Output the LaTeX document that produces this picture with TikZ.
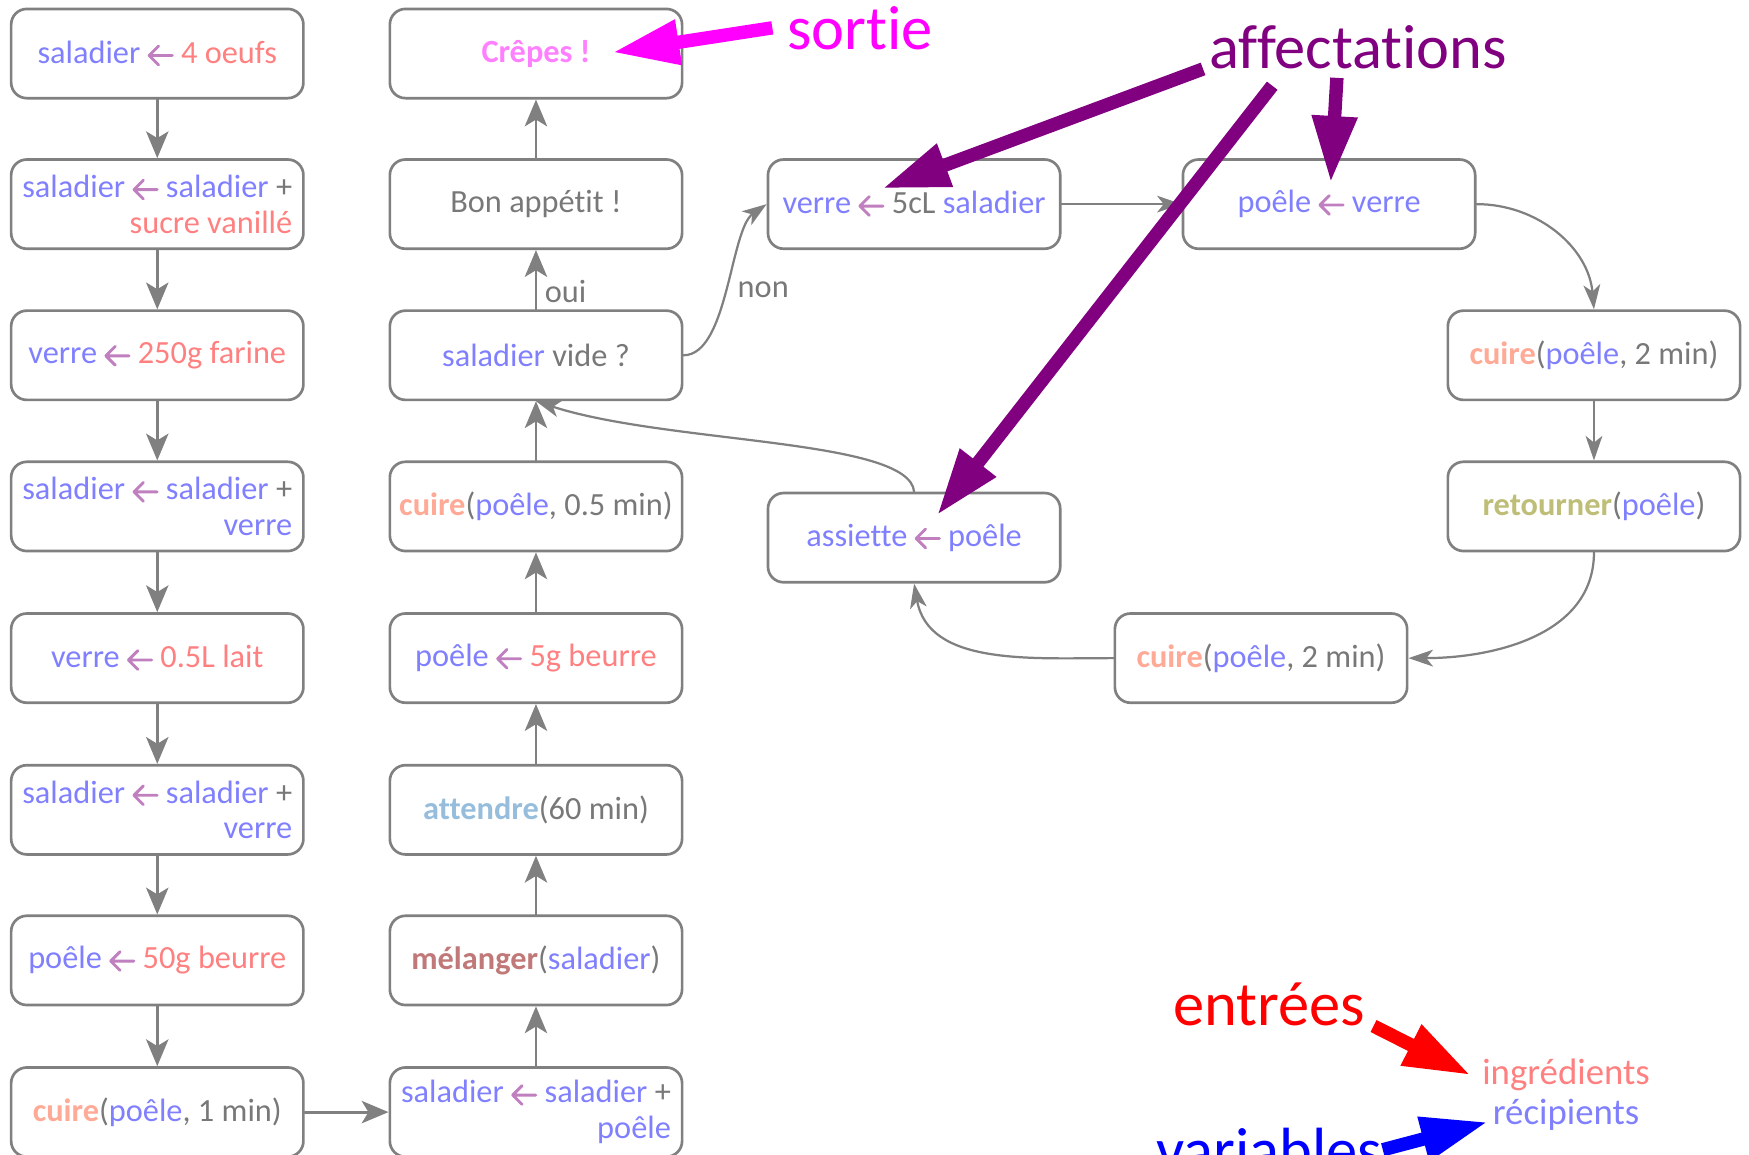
\documentclass[tikz,border=0pt]{standalone}
\usepackage{fontspec}
\setmainfont{Carlito}[Ligatures=NoCommon]
\usetikzlibrary{arrows.meta}
\definecolor{texte_gris}{RGB}{120,120,120}
\definecolor{recipient_bleu}{RGB}{128,128,255}
\definecolor{ingredient_rouge}{RGB}{255,128,128}
\definecolor{fleche_mauve}{RGB}{192,128,192}
\definecolor{cuire_saumon}{RGB}{255,170,150}
\definecolor{attendre_bleu}{RGB}{150,190,220}
\definecolor{melanger_brun}{RGB}{192,120,120}
\definecolor{retourner_olive}{RGB}{190,190,120}
\definecolor{sortie_rose}{RGB}{255,128,255}
\definecolor{sortie_magenta}{RGB}{255,0,255}
\definecolor{affectation_violet}{RGB}{128,0,128}
\definecolor{entree_rouge}{RGB}{255,0,0}
\definecolor{variable_bleu}{RGB}{0,0,255}
\newcommand\rec[1]{\textcolor{recipient_bleu}{#1}}
\newcommand\ingr[1]{\textcolor{ingredient_rouge}{#1}}
\newcommand\recoit{\tikz[baseline=0pt,sharp corners,line cap=round,line join=round]\draw[fleche_mauve,line width=1.3pt] (11pt,3.5pt) -- (0.6pt,3.5pt) (4.8pt,7.7pt) -- (0.6pt,3.5pt) -- (4.8pt,-0.7pt);}
\newcommand\fonction[2]{\textcolor{#1}{\bfseries #2}}
\tikzset{
	etape/.style={draw=gray,line width=1.2pt,rounded corners=7pt,minimum width=131pt,minimum height=40pt,inner sep=3pt,align=right,text=texte_gris,font=\fontsize{14.5}{16}\selectfont},
	lien/.style={draw=gray,line width=1.3pt,-{Stealth[length=12pt,width=10pt,inset=3pt]}},
	boucle/.style={draw=gray,line width=1pt,-{Stealth[length=11pt,width=7.5pt,inset=3pt]}},
	grosse/.style={line width=6pt,line cap=butt,-{Triangle[length=30pt,width=19pt]}},
	legende/.style={font=\fontsize{28}{30}\selectfont,anchor=base,inner sep=0pt},
	petit/.style={font=\fontsize{14.5}{16}\selectfont,text=texte_gris},
}

\begin{document}
\begin{tikzpicture}[x=0.5pt,y=0.5pt,line join=round,line cap=round]
	\useasboundingbox (0,0) rectangle (1568,-1035);
	\begin{scope}
		\node[etape] (g1) at (141,-48)  {\rec{saladier} \recoit{} \ingr{4 oeufs}};
		\node[etape] (g2) at (141,-183) {\rec{saladier} \recoit{} \rec{saladier} +\\ \ingr{sucre vanillé}};
		\node[etape] (g3) at (141,-318.5) {\rec{verre} \recoit{} \ingr{250g farine}};
		\node[etape] (g4) at (141,-454) {\rec{saladier} \recoit{} \rec{saladier} +\\ \rec{verre}};
		\node[etape] (g5) at (141,-590) {\rec{verre} \recoit{} \ingr{0.5L lait}};
		\node[etape] (g6) at (141,-726) {\rec{saladier} \recoit{} \rec{saladier} +\\ \rec{verre}};
		\node[etape] (g7) at (141,-861) {\rec{poêle} \recoit{} \ingr{50g beurre}};
		\node[etape] (g8) at (141,-997) {\fonction{cuire_saumon}{cuire}(\rec{poêle}, 1 min)};

		\node[etape] (m1) at (480.5,-48)  {\fonction{sortie_rose}{Crêpes !}};
		\node[etape] (m2) at (480.5,-183) {Bon appétit !};
		\node[etape] (m3) at (480.5,-318.5) {\rec{saladier} vide ?};
		\node[etape] (m4) at (480.5,-454) {\fonction{cuire_saumon}{cuire}(\rec{poêle}, 0.5 min)};
		\node[etape] (m5) at (480.5,-590) {\rec{poêle} \recoit{} \ingr{5g beurre}};
		\node[etape] (m6) at (480.5,-726) {\fonction{attendre_bleu}{attendre}(60 min)};
		\node[etape] (m7) at (480.5,-861) {\fonction{melanger_brun}{mélanger}(\rec{saladier})};
		\node[etape] (m8) at (480.5,-997) {\rec{saladier} \recoit{} \rec{saladier} +\\ \rec{poêle}};

		\node[etape] (verre)    at (819.5,-183)  {\rec{verre} \recoit{} 5cL \rec{saladier}};
		\node[etape] (poele)    at (1191.5,-183) {\rec{poêle} \recoit{} \rec{verre}};
		\node[etape] (cuirea)   at (1429,-318.5) {\fonction{cuire_saumon}{cuire}(\rec{poêle}, 2 min)};
		\node[etape] (retourne) at (1429,-454)   {\fonction{retourner_olive}{retourner}(\rec{poêle})};
		\node[etape] (cuireb)   at (1130.5,-590) {\fonction{cuire_saumon}{cuire}(\rec{poêle}, 2 min)};
		\node[etape] (assiette) at (819.5,-482)  {\rec{assiette} \recoit{} \rec{poêle}};
	\end{scope}
	\foreach\i in {1,...,7}
	{
		\pgfmathtruncatemacro\j{\i+1}
		\draw[lien] (g\i) -- (g\j);
	}
	\draw[lien] (g8) -- (m8);
	\foreach\i in {3,...,7}
	{
		\pgfmathtruncatemacro\j{\i+1}
		\draw[lien] (m\j) -- (m\i);
	}
	\draw[lien] (m3) -- node[pos=0.3,right,petit] {oui} (m2);
	\draw[lien] (m2) -- (m1);
	\draw[boucle] (m3.east) to[out=0,in=215,out distance=20pt,in distance=20pt] node[pos=0.5,anchor=west,xshift=0.5pt,petit] {non} (verre.west);
	\draw[boucle] (verre) -- (poele);
	\draw[boucle] (poele.east) to[out=0,in=95] (cuirea.north);
	\draw[boucle] (cuirea) -- (retourne);
	\draw[boucle] (retourne.south) to[out=-90,in=0] (cuireb.east);
	\draw[boucle] (cuireb.west) to[out=180,in=-80] (assiette.south);
	\draw[boucle] (assiette.north) to[out=95,in=-18,out distance=24pt,in distance=62pt] (m3.south);

	\node[legende,text=sortie_magenta] (sortie) at (771,-44) {sortie};
	\node[legende,text=affectation_violet] (affect) at (1217.5,-61) {affectations};
	\node[legende,text=entree_rouge] (entrees) at (1138,-919) {entrées};
	\node[legende,text=variable_bleu] (variables) at (1138,-1050) {variables};
	\node[anchor=base,inner sep=0pt,text=ingredient_rouge,font=\fontsize{16.5}{18}\selectfont] (ingredients) at (1404,-972.5) {ingrédients};
	\node[anchor=base,inner sep=0pt,text=recipient_bleu,font=\fontsize{16.5}{18}\selectfont] (recipients) at (1404,-1008.5) {récipients};

	\coordinate (bout crepes) at (549,-47);
	\coordinate (bout verre) at (791,-169);
	\coordinate (bout poele) at (1193,-164);
	\coordinate (bout assiette) at (840,-462);
	\draw[grosse,sortie_magenta] ([xshift=-6.5pt]sortie.west) -- (bout crepes);
	\draw[grosse,affectation_violet] ([xshift=-2.5pt]affect.south west) -- (bout verre);
	\draw[grosse,affectation_violet] ([xshift=28.5pt,yshift=-7.5pt]affect.south west) -- (bout assiette);
	\draw[grosse,affectation_violet] ([xshift=57.5pt,yshift=-4pt]affect.south west) -- (bout poele);
	\draw[grosse,entree_rouge] ([xshift=3.5pt]entrees.south east) -- ([xshift=-5pt]ingredients.west);
	\draw[grosse,variable_bleu] (variables.east) -- ([xshift=-2pt,yshift=-3pt]recipients.west);
\end{tikzpicture}
\end{document}
